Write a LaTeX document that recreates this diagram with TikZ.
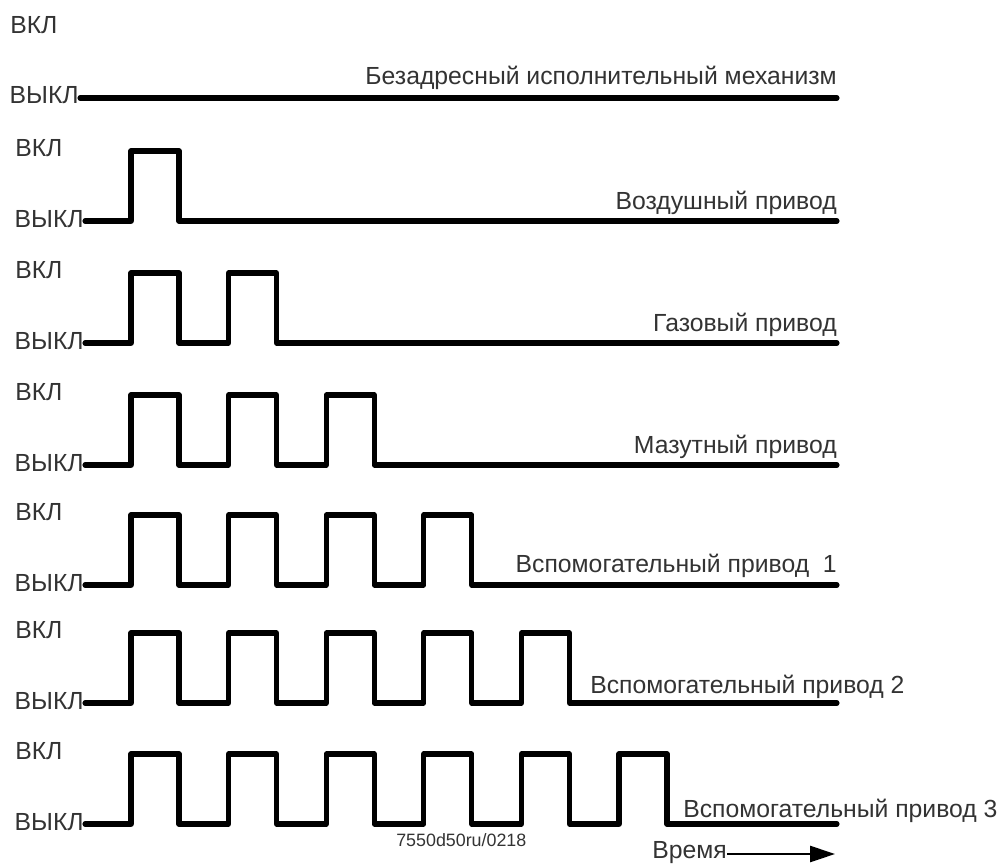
\documentclass[tikz,border=0pt]{standalone}
\usepackage{fontspec}
\setmainfont{Liberation Sans}
\usetikzlibrary{arrows.meta,positioning}

\tikzset{
	wave/.style={line width=3.6pt, line cap=round, line join=round},
	lbl/.style={inner sep=0pt, text=black!80, font=\fontsize{17.6}{20}\selectfont},
}

\begin{document}
\begin{tikzpicture}[x=0.025cm, y=-0.025cm]
	\useasboundingbox (0,0) rectangle (1000,863);
	% flat line, no pulses
	\draw[wave] (80,98) -- (837,98);
	\node[lbl, anchor=east] (off0) at (79,95) {ВЫКЛ};
	\node[lbl, anchor=west] (on0) at (10,25) {ВКЛ};
	\node[lbl, anchor=base east] (name0) at (837,84) {Безадресный исполнительный механизм};
	% rows with 1..6 pulses
	\foreach \n/\lo in {1/221, 2/343, 3/465, 4/585, 5/703, 6/824} {
		\draw[wave] (85,\lo) \foreach \k in {1,...,\n} {
			-- ({131+97.6*(\k-1)},\lo) -- ++(0,-70) -- ++(48,0) -- ++(0,70)} -- (837,\lo);
		\node[lbl, anchor=east] (off\n) at (84,\lo-2) {ВЫКЛ};
		\node[lbl, anchor=west] (on\n) at (15,\lo-73) {ВКЛ};
	}
	\node[lbl, anchor=base east] (name1) at (837,209) {Воздушный привод};
	\node[lbl, anchor=base east] (name2) at (837,331) {Газовый привод};
	\node[lbl, anchor=base east] (name3) at (837,453) {Мазутный привод};
	\node[lbl, anchor=base east] (name4) at (837,572) {Вспомогательный привод\ \ 1};
	\node[lbl, anchor=base west] (name5) at (590,693) {Вспомогательный привод 2};
	\node[lbl, anchor=base west] (name6) at (683,817) {Вспомогательный привод 3};
	% drawing number and time axis
	\node[lbl, font=\fontsize{12.7}{15}\selectfont, anchor=base west] (code) at (396,846) {7550d50ru/0218};
	\node[lbl, anchor=base west] (time) at (652,858) {Время};
	\coordinate (tend) at (835,854);
	\draw[-{Triangle[length=0.62cm, width=0.4cm]}, line width=1.6pt] (time.east |- tend) -- (tend);
\end{tikzpicture}
\end{document}
